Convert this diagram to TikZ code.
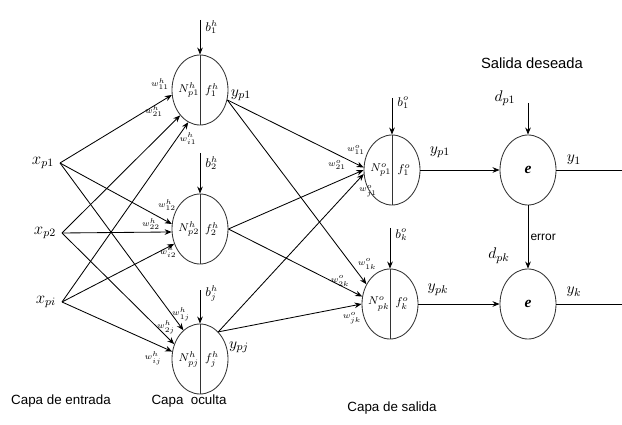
\documentclass[tikz,border=0pt]{standalone}
\usepackage{fontspec}
\setmainfont{Liberation Serif}
\setsansfont{Liberation Sans}
\usepackage{tikz}
\usetikzlibrary{shapes.geometric,arrows.meta}

\begin{document}
\begin{tikzpicture}[x=0.025cm,y=-0.025cm,line width=0.6pt,
    >={Stealth[length=5pt,width=4pt]},
    neuron/.style={draw=black!80,ellipse,minimum width=1.4cm,
      minimum height=1.75cm,inner sep=0pt},
    inlab/.style={inner sep=0pt,font=\fontsize{8.5}{9}\selectfont},
    wlab/.style={inner sep=0pt,font=\fontsize{6.5}{7}\selectfont},
    blab/.style={inner sep=0pt,anchor=west,font=\fontsize{9}{10}\selectfont},
    sig/.style={inner sep=0pt,font=\fontsize{11}{12}\selectfont},
    layer/.style={inner sep=0pt,font=\sffamily\fontsize{9.5}{11}\selectfont}]
  \useasboundingbox (0,0) rectangle (622,425);
  % neuronas
  \node[neuron] (h1) at (200,90) {};
  \node[neuron] (h2) at (200,229) {};
  \node[neuron] (h3) at (200,359) {};
  \node[neuron] (o1) at (392,170) {};
  \node[neuron] (o2) at (390,304) {};
  \node[neuron] (e1) at (528,170) {\fontsize{11}{12}\selectfont\textbf{\textit{e}}};
  \node[neuron] (e2) at (528,304) {\fontsize{11}{12}\selectfont\textbf{\textit{e}}};
  \foreach \n in {h1,h2,h3,o1,o2}
    \draw[black!80] (\n.north) -- (\n.south);
  \foreach \n/\a/\b in {h1/p1/1,h2/p2/2,h3/pj/j}{
    \node[inlab] (\n-N) at ([xshift=-0.28cm]\n.center) {$N^h_{\a}$};
    \node[inlab] (\n-f) at ([xshift=0.3cm]\n.center) {$f^h_{\b}$};
  }
  \foreach \n/\a/\b in {o1/p1/1,o2/pk/k}{
    \node[inlab] (\n-N) at ([xshift=-0.28cm]\n.center) {$N^o_{\a}$};
    \node[inlab] (\n-f) at ([xshift=0.3cm]\n.center) {$f^o_{\b}$};
  }
  % entradas
  \coordinate (x1) at (60,163);
  \coordinate (x2) at (62,233);
  \coordinate (x3) at (62,302);
  \node[sig,anchor=east,font=\fontsize{12}{13}\selectfont] (lx1) at ([xshift=-4pt]x1) {$x_{p1}$};
  \node[sig,anchor=east,font=\fontsize{12}{13}\selectfont] (lx2) at ([xshift=-4pt]x2) {$x_{p2}$};
  \node[sig,anchor=east,font=\fontsize{12}{13}\selectfont] (lx3) at ([xshift=-4pt]x3) {$x_{pi}$};
  \foreach \x/\a/\b/\c in {x1/190/170/120,x2/232/186/150,x3/250/210/165}{
    \draw[->] (\x) -- (h1.\a);
    \draw[->] (\x) -- (h2.\b);
    \draw[->] (\x) -- (h3.\c);
  }
  % capa oculta a capa de salida
  \foreach \h/\s/\a/\b in {h1/-20/175/140,h2/0/180/165,h3/56/188/180}{
    \draw[->] (\h.\s) -- (o1.\a);
    \draw[->] (\h.\s) -- (o2.\b);
  }
  \draw[->] (o1.east) -- (e1.west);
  \draw[->] (o2.east) -- (e2.west);
  \coordinate (out1) at (622,170);
  \coordinate (out2) at (622,304);
  \draw (e1.east) -- (out1);
  \draw (e2.east) -- (out2);
  \draw[->] (e1.south) -- node[right,inner sep=1.5pt,font=\sffamily\fontsize{8.5}{9}\selectfont] (err) {error} (e2.north);
  % umbrales y salidas deseadas
  \coordinate (bh1) at (200,20);
  \coordinate (bh2) at (200,153);
  \coordinate (bh3) at (200,290);
  \coordinate (bo1) at (392,98);
  \coordinate (bo2) at (390,228);
  \coordinate (d1) at (528,103);
  \foreach \c/\n in {bh1/h1,bh2/h2,bh3/h3,bo1/o1,bo2/o2,d1/e1}
    \draw[->] (\c) -- (\n.north);
  \node[blab] (lbh1) at (205,27) {$b^h_1$};
  \node[blab] (lbh2) at (205,163) {$b^h_2$};
  \node[blab] (lbh3) at (205,293) {$b^h_j$};
  \node[blab] (lbo1) at (397,103) {$b^o_1$};
  \node[blab] (lbo2) at (395,235) {$b^o_k$};
  \node[sig] (ld1) at (505,98) {$d_{p1}$};
  \node[sig] (ld2) at (499,256) {$d_{pk}$};
  % pesos
  \node[wlab] (w11) at (160,84) {$w^h_{11}$};
  \node[wlab] (w21) at (154,111) {$w^h_{21}$};
  \node[wlab] (wi1) at (188,139) {$w^h_{i1}$};
  \node[wlab] (w12) at (167,205) {$w^h_{12}$};
  \node[wlab] (w22) at (151,224) {$w^h_{22}$};
  \node[wlab] (wi2) at (168,252) {$w^h_{i2}$};
  \node[wlab] (w1j) at (181,314) {$w^h_{1j}$};
  \node[wlab] (w2j) at (166,327) {$w^h_{2j}$};
  \node[wlab] (wij) at (153,358) {$w^h_{ij}$};
  \node[wlab] (v11) at (356,150) {$w^o_{11}$};
  \node[wlab] (v21) at (337,165) {$w^o_{21}$};
  \node[wlab] (vj1) at (368,191) {$w^o_{j1}$};
  \node[wlab] (v1k) at (367,264) {$w^o_{1k}$};
  \node[wlab] (v2k) at (340,281) {$w^o_{2k}$};
  \node[wlab] (vjk) at (352,318) {$w^o_{jk}$};
  % salidas
  \node[sig] (yh1) at (241,95) {$y_{p1}$};
  \node[sig] (yh3) at (239,347) {$y_{pj}$};
  \node[sig] (yo1) at (440,152) {$y_{p1}$};
  \node[sig] (yo2) at (438,290) {$y_{pk}$};
  \node[sig] (ye1) at (574,160) {$y_1$};
  \node[sig] (ye2) at (574,292) {$y_k$};
  % capas
  \node[layer] (cin) at (61,401) {Capa de entrada};
  \node[layer] (chid) at (189,401) {Capa\ \ oculta};
  \node[layer] (cout) at (392,408) {Capa de salida};
  \node[layer,font=\sffamily\fontsize{10.5}{12}\selectfont] (cdes) at (532,63) {Salida deseada};
\end{tikzpicture}
\end{document}
